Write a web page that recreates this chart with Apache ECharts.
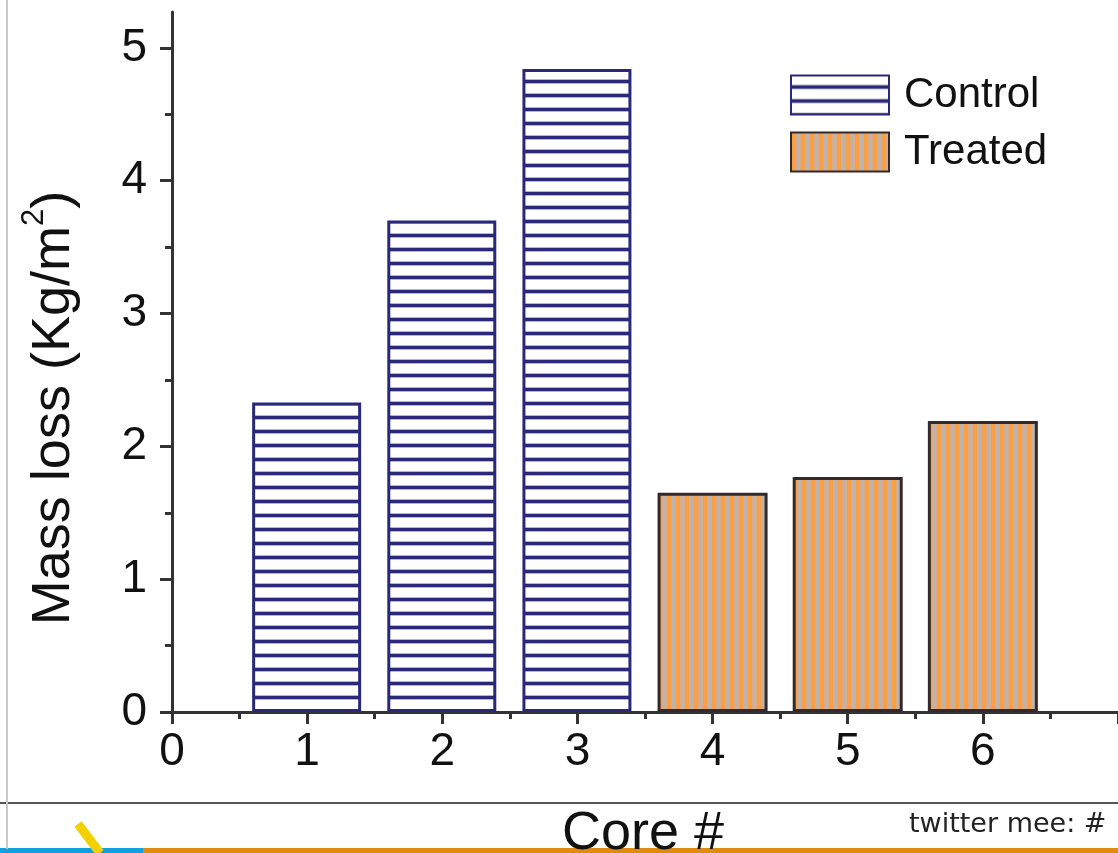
<!DOCTYPE html>
<html>
<head>
<meta charset="utf-8">
<script src="https://cdn.jsdelivr.net/npm/echarts@6/dist/echarts.min.js"></script>
<style>
html,body{margin:0;padding:0;background:#fff;}
#c{width:1118px;height:853px;}
</style>
</head>
<body>
<div id="c"></div>
<script>
// ---- data ----
const controlCores = [1, 2, 3];
const controlValues = [2.33, 3.70, 4.84];
const treatedCores = [4, 5, 6];
const treatedValues = [1.65, 1.77, 2.19];
const xTickValues = [0, 1, 2, 3, 4, 5, 6, 7];
const xLabelValues = [0, 1, 2, 3, 4, 5, 6];
const xMinorValues = [0.5, 1.5, 2.5, 3.5, 4.5, 5.5, 6.5];
const yTickValues = [0, 1, 2, 3, 4, 5];
const yMinorValues = [0.5, 1.5, 2.5, 3.5, 4.5];
const seriesNames = ['Control', 'Treated'];

// ---- patterns ----
function hPattern() {
  const c = document.createElement('canvas');
  c.width = 4; c.height = 14;
  const g = c.getContext('2d');
  g.fillStyle = '#ffffff'; g.fillRect(0, 0, 4, 14);
  g.fillStyle = '#b8b8c0'; g.fillRect(0, 9, 4, 1); g.fillRect(0, 13, 4, 1);
  g.fillStyle = '#2a2878'; g.fillRect(0, 10, 4, 3);
  return c;
}
function vPattern() {
  const c = document.createElement('canvas');
  c.width = 9; c.height = 4;
  const g = c.getContext('2d');
  g.fillStyle = '#bdb4b0'; g.fillRect(0, 0, 9, 4);
  g.fillStyle = '#d9ab86'; g.fillRect(0, 0, 1, 4); g.fillRect(5, 0, 1, 4);
  g.fillStyle = '#f9a046'; g.fillRect(1, 0, 4, 4);
  return c;
}

const FONT = 'Liberation Sans, Arial, sans-serif';
const chart = echarts.init(document.getElementById('c'), null, {renderer: 'canvas'});

const axisLine = {show: true, onZero: false, lineStyle: {color: '#333', width: 3}};

chart.setOption({
  animation: false,
  backgroundColor: '#fff',
  grid: {left: 172, right: 0, top: 12, bottom: 141, containLabel: false},
  legend: {
    orient: 'vertical', left: 785, top: 69, itemWidth: 98, itemHeight: 39, itemGap: 15,
    icon: 'rect', data: seriesNames,
    textStyle: {fontFamily: FONT, fontSize: 42, color: '#111', padding: [0, 0, 0, 10]}
  },
  xAxis: [{
    type: 'value', min: 0, max: 7, interval: 1,
    axisLine: axisLine,
    axisTick: {show: true, inside: false, length: 12, lineStyle: {color: '#333', width: 3}, customValues: xTickValues},
    axisLabel: {fontFamily: FONT, fontSize: 46, color: '#111', margin: 17, customValues: xLabelValues},
    splitLine: {show: false}
  }, {
    type: 'value', min: 0, max: 7, position: 'bottom',
    axisLine: {show: false},
    axisTick: {show: true, length: 7, lineStyle: {color: '#333', width: 3}, customValues: xMinorValues},
    axisLabel: {show: false},
    splitLine: {show: false}
  }],
  yAxis: [{
    type: 'value', min: 0, max: 5.27, interval: 1,
    axisLine: axisLine,
    axisTick: {show: true, length: 12, lineStyle: {color: '#333', width: 3}, customValues: yTickValues},
    axisLabel: {fontFamily: FONT, fontSize: 46, color: '#111', margin: 25, customValues: yTickValues},
    splitLine: {show: false}
  }, {
    type: 'value', min: 0, max: 5.27, position: 'left',
    axisLine: {show: false},
    axisTick: {show: true, length: 7, lineStyle: {color: '#333', width: 3}, customValues: yMinorValues},
    axisLabel: {show: false},
    splitLine: {show: false}
  }],
  series: [{
    name: seriesNames[0], type: 'bar', barWidth: 109, barGap: '-100%',
    data: controlCores.map((x, i) => [x, controlValues[i]]),
    itemStyle: {color: {image: hPattern(), repeat: 'repeat'}, borderColor: '#2a2878', borderWidth: 3}
  }, {
    name: seriesNames[1], type: 'bar', barWidth: 110, barGap: '-100%',
    data: treatedCores.map((x, i) => [x, treatedValues[i]]),
    itemStyle: {color: {image: vPattern(), repeat: 'repeat'}, borderColor: '#34292a', borderWidth: 3}
  }],
  graphic: [
    {type: 'line', shape: {x1: 7, y1: 0, x2: 7, y2: 849}, style: {stroke: '#c8c8c8', lineWidth: 2}, z: 1},
    {type: 'line', shape: {x1: 0, y1: 803, x2: 1118, y2: 803}, style: {stroke: '#555', lineWidth: 2}},
    {type: 'rect', shape: {x: 0, y: 848, width: 143, height: 5}, style: {fill: '#10a0e0'}},
    {type: 'rect', shape: {x: 143, y: 848, width: 975, height: 5}, style: {fill: '#e08a10'}},
    {type: 'line', shape: {x1: 78, y1: 824, x2: 100, y2: 853}, style: {stroke: '#f5d000', lineWidth: 9}},
    {
      type: 'text', x: 50, y: 408, rotation: Math.PI / 2,
      style: {
        text: '{a|Mass loss (Kg/m}{s|2}{a|)}',
        rich: {
          a: {fontFamily: FONT, fontSize: 54, fill: '#111', lineHeight: 62, verticalAlign: 'bottom'},
          s: {fontFamily: FONT, fontSize: 31, fill: '#111', lineHeight: 62, verticalAlign: 'top'}
        },
        align: 'center', verticalAlign: 'middle'
      }
    },
    {
      type: 'text', x: 643, y: 834,
      style: {text: 'Core #', fontFamily: FONT, fontSize: 54, fill: '#111', align: 'center', verticalAlign: 'middle'}
    },
    {
      type: 'text', x: 909, y: 825,
      style: {text: 'twitter mee: #', fontFamily: 'DejaVu Sans', fontSize: 27, fill: '#222', align: 'left', verticalAlign: 'middle'}
    }
  ]
});
</script>
</body>
</html>
